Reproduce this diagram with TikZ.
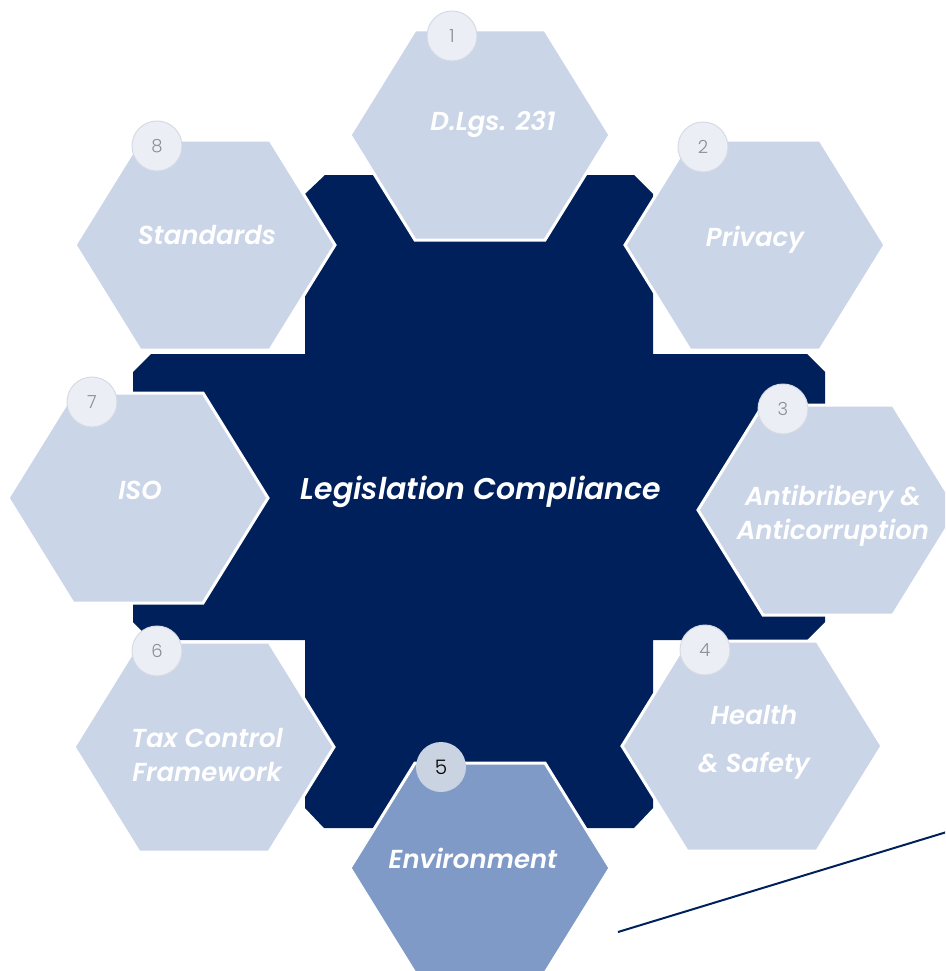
\documentclass[tikz,border=0pt]{standalone}
\usepackage{fontspec}
\setmainfont{Poppins}
\newfontfamily\lblfont{Poppins SemiBold Italic}
\newfontfamily\numfont{Poppins Light}
\usetikzlibrary{calc}
\definecolor{navy}{HTML}{00205B}
\definecolor{hexlight}{HTML}{CBD5E8}
\definecolor{hexmid}{HTML}{7F9AC7}
\definecolor{circfill}{HTML}{C9D3E1}
\definecolor{circlight}{HTML}{EBEEF4}
\definecolor{circedge}{HTML}{D5DBE5}
\definecolor{numgray}{HTML}{8A8F96}
\tikzset{
  hexbox/.style={fill=hexlight, draw=white, line width=3pt, line join=miter},
  hexsel/.style={fill=hexmid, draw=white, line width=3pt, line join=miter},
  lbl/.style={text=white, font=\fontsize{26}{34}\lblfont, align=center},
  numc/.style={circle, minimum size=50pt, inner sep=0pt, fill=circlight, draw=circedge, line width=1pt, text=numgray, font=\fontsize{18}{18}\numfont},
  numsel/.style={circle, minimum size=50pt, inner sep=0pt, fill=circfill, text=black, font=\fontsize{20}{20}\numfont},
}
\newcommand\hexagon[4]{% cx cy style name
  \path[#3] (#1-130,#2) -- (#1-65,#2-105) -- (#1+65,#2-105) -- (#1+130,#2) -- (#1+65,#2+105) -- (#1-65,#2+105) -- cycle;
  \coordinate (#4) at (#1,#2);}
\begin{document}
\begin{tikzpicture}[x=1pt,y=-1pt]
\useasboundingbox (0,0) rectangle (945,971);
\clip (0,0) rectangle (945,971);
% central cross
\fill[navy] (325,175) -- (634,175) -- (653,194) -- (653,354) -- (807,354) -- (825,372)
  -- (825,622) -- (807,640) -- (653,640) -- (653,808) -- (634,828) -- (324,828) -- (305,808)
  -- (305,640) -- (151,640) -- (133,622) -- (133,372) -- (151,354) -- (305,354) -- (305,194) -- cycle;
\node[text=white, font=\fontsize{30}{30}\lblfont] (center) at (481,492) {Legislation Compliance};
% hexagons
\hexagon{480}{135}{hexbox}{h1}
\hexagon{755}{245}{hexbox}{h2}
\hexagon{828}{510}{hexbox}{h3}
\hexagon{752}{746}{hexbox}{h4}
\hexagon{204}{747}{hexbox}{h6}
\hexagon{138}{498}{hexbox}{h7}
\hexagon{205}{245}{hexbox}{h8}
\hexagon{480}{868}{hexsel}{h5}
% labels
\node[lbl] (t1) at (493,124) {D.Lgs. 231};
\node[lbl] (t2) at (755,240) {Privacy};
\node[lbl] (t3) at (833,516) {Antibribery \&\\Anticorruption};
\node[lbl, font=\fontsize{26}{48}\lblfont] (t4) at (754,742) {Health\\\& Safety};
\node[lbl] (t5) at (473,858) {Environment};
\node[lbl] (t6) at (207,755) {Tax Control\\Framework};
\node[lbl] (t7) at (140,490) {ISO};
\node[lbl] (t8) at (207,235) {Standards};
% number circles
\node[numc] (n1) at (452,36) {1};
\node[numc] (n2) at (703,147) {2};
\node[numc] (n3) at (783,409) {3};
\node[numc] (n4) at (705,650) {4};
\node[numsel] (n5) at (441,767) {5};
\node[numc] (n6) at (157,651) {6};
\node[numc] (n7) at (92,402) {7};
\node[numc] (n8) at (157,146) {8};
% line
\coordinate (la) at (618,932);
\coordinate (lb) at (950,831);
\draw[navy, line width=2pt] (la) -- (lb);
\end{tikzpicture}
\end{document}
